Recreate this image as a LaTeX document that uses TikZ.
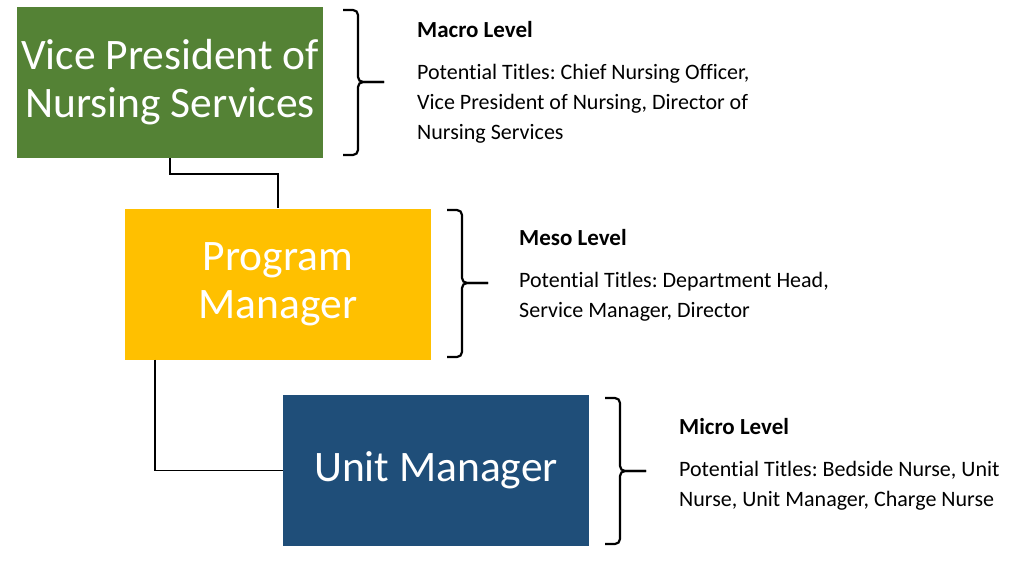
\documentclass[tikz,border=0pt]{standalone}
\usepackage{fontspec}
\setmainfont{Carlito}[Ligatures=NoCommon]
\frenchspacing
\definecolor{vpgreen}{HTML}{548235}
\definecolor{pmgold}{HTML}{FFC000}
\definecolor{umblue}{HTML}{1F4E79}
\tikzset{
  levelbox/.style={rectangle, minimum width=306pt, minimum height=151pt, inner sep=0pt,
    align=center, text=white, font=\fontsize{43.5}{48}\selectfont},
  link/.style={line width=1.6pt},
  curly/.style={line width=2.2pt, rounded corners=5pt},
  levelnote/.style={anchor=base west, align=left, inner sep=0pt,
    font=\fontsize{22}{30}\selectfont}
}
\begin{document}
\begin{tikzpicture}[x=1pt,y=-1pt]
        \useasboundingbox (0,0) rectangle (1018,570);
        % Boxes %
        \node [levelbox, fill=vpgreen] (vp) at (170,82.5) {Vice President of\\Nursing Services};
        \node [levelbox, fill=pmgold] (pm) at (278,284) {Program\\Manager};
        \node [levelbox, fill=umblue] (um) at (436,470.5) {Unit Manager};
        % Links %
        \draw [link] (vp.south) -- ++(0,16) -| (pm.north);
        \draw [link] ([xshift=30pt]pm.south west) |- (um.west);
        % Braces %
        \foreach \xl/\yt/\ym/\yb in {343/10/82/155, 447/210/283/357, 605/398/471/544} {
          \draw [curly] (\xl,\yt) -| (\xl+15,\ym) -- (\xl+41,\ym);
          \draw [curly] (\xl,\yb) -| (\xl+15,\ym) -- (\xl+41,\ym);
        }
        % Levels (anchored at the last line) %
        \node [levelnote] (macro) at (417,139) {{\fontsize{23}{30}\selectfont\bfseries Macro Level}\\[12pt]Potential Titles: Chief Nursing Officer,\\Vice President of Nursing, Director of\\Nursing Services};
        \node [levelnote] (meso) at (519,317) {{\fontsize{23}{30}\selectfont\bfseries Meso Level}\\[12pt]Potential Titles: Department Head,\\Service Manager, Director};
        \node [levelnote] (micro) at (679,506) {{\fontsize{23}{30}\selectfont\bfseries Micro Level}\\[12pt]Potential Titles: Bedside Nurse, Unit\\Nurse, Unit Manager, Charge Nurse};
\end{tikzpicture}
\end{document}
